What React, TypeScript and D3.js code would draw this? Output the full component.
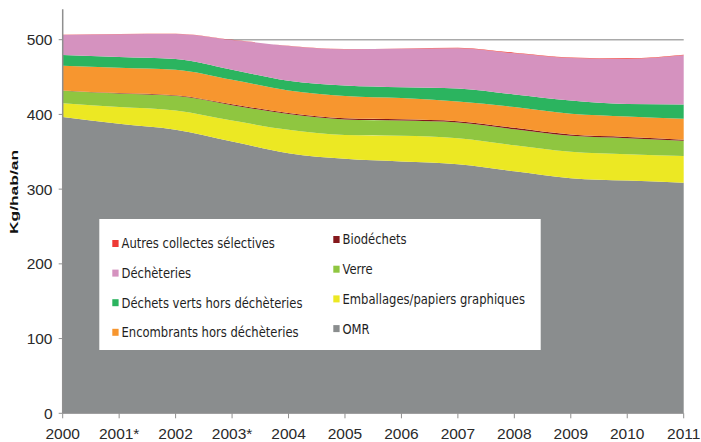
import * as d3 from "d3";
import { useEffect } from "react";

const W = 701;
const H = 442;

const YEARS = ["2000", "2001*", "2002", "2003*", "2004", "2005", "2006", "2007", "2008", "2009", "2010", "2011"];

// kg/hab/an, stacked bottom to top
const OMR = [396.4, 387.4, 379.4, 363.7, 348.1, 340.5, 336.9, 333.4, 323.9, 314.6, 311.4, 308.7];
const EMBALLAGES = [18.7, 22.4, 25.8, 28.1, 31.3, 32.0, 34.4, 34.8, 34.9, 35.3, 35.4, 35.8];
const VERRE = [16.5, 18.2, 19.7, 20.6, 21.0, 20.8, 20.5, 21.1, 21.4, 21.4, 21.4, 20.1];
const BIODECHETS = [0.5, 0.5, 0.6, 1.1, 1.6, 1.7, 1.7, 1.7, 1.8, 1.7, 1.6, 1.6];
const ENCOMBRANTS = [33.0, 34.0, 34.3, 32.9, 30.0, 29.7, 28.3, 26.3, 27.8, 27.8, 27.4, 27.9];
const VERTS = [14.4, 14.3, 14.3, 13.4, 13.0, 14.0, 14.6, 17.4, 16.9, 17.8, 16.8, 19.2];
const DECHETERIES = [26.9, 30.5, 33.6, 39.9, 46.7, 48.5, 51.5, 53.8, 55.1, 56.9, 60.2, 65.8];
const AUTRES = [0.3, 0.3, 0.3, 0.3, 0.3, 0.3, 0.4, 0.8, 0.8, 0.8, 0.8, 0.8];

const Y_TICKS = [0, 100, 200, 300, 400, 500];

type Series = { key: string; label: string; color: string; values: number[] };

const SERIES: Series[] = [
  { key: "omr", label: "OMR", color: "#8a8d8e", values: OMR },
  { key: "emb", label: "Emballages/papiers graphiques", color: "#ece823", values: EMBALLAGES },
  { key: "verre", label: "Verre", color: "#8fc640", values: VERRE },
  { key: "bio", label: "Biodéchets", color: "#85181c", values: BIODECHETS },
  { key: "enc", label: "Encombrants hors déchèteries", color: "#f7962f", values: ENCOMBRANTS },
  { key: "verts", label: "Déchets verts hors déchèteries", color: "#2bb45f", values: VERTS },
  { key: "dech", label: "Déchèteries", color: "#d592bf", values: DECHETERIES },
  { key: "autres", label: "Autres collectes sélectives", color: "#ee3a36", values: AUTRES },
];

const LEFT_LEGEND = ["autres", "dech", "verts", "enc"];
const RIGHT_LEGEND = ["bio", "verre", "emb", "omr"];

const MARGIN = { left: 62.7, right: 683.7, top: 9.8, bottom: 413.3 };
const FONT = "'Liberation Sans', Arial, sans-serif";
const LEGEND_FONT = "'DejaVu Sans Condensed', 'DejaVu Sans', sans-serif";

function LegendItem({ s, x, cy }: { s: Series; x: number; cy: number }) {
  return (
    <g>
      <rect x={x} y={cy - 3.3} width={6.3} height={7} fill={s.color} />
      <text
        transform={`translate(${x + 9.2},${cy}) scale(0.9,1)`}
        dy="0.36em"
        fontFamily={LEGEND_FONT}
        fontSize={14.3}
        fill="#1e1e1e"
      >
        {s.label}
      </text>
    </g>
  );
}

export default function App() {
  useEffect(() => {
    document.body.style.margin = "0";
  }, []);

  const x = d3.scalePoint<string>().domain(YEARS).range([MARGIN.left, MARGIN.right]);
  const y = d3.scaleLinear().domain([0, 540]).range([MARGIN.bottom, MARGIN.top]);

  const rows = YEARS.map((yr, i) => {
    const r: Record<string, number | string> = { year: yr };
    SERIES.forEach((s) => (r[s.key] = s.values[i]));
    return r;
  });
  const stacked = d3.stack<Record<string, number | string>>().keys(SERIES.map((s) => s.key))(rows as any);

  const area = d3
    .area<any>()
    .x((d) => x(d.data.year as string)!)
    .y0((d) => y(d[0]))
    .y1((d) => y(d[1]))
    .curve(d3.curveMonotoneX);

  const byKey = (k: string) => SERIES.find((s) => s.key === k)!;

  return (
    <svg width={W} height={H} style={{ display: "block", background: "#fff" }}>
      {/* grid line at 500 */}
      <line x1={MARGIN.left} x2={MARGIN.right} y1={y(500)} y2={y(500)} stroke="#a9a9a9" strokeWidth={1.5} />

      {stacked.map((layer, i) => (
        <path key={SERIES[i].key} d={area(layer) ?? ""} fill={SERIES[i].color} />
      ))}

      {/* y axis */}
      <line x1={MARGIN.left} x2={MARGIN.left} y1={MARGIN.top - 0.5} y2={MARGIN.bottom} stroke="#8f8f8f" strokeWidth={1.5} />
      {Y_TICKS.map((t) => (
        <g key={t}>
          <line x1={MARGIN.left - 4} x2={MARGIN.left} y1={y(t)} y2={y(t)} stroke="#8f8f8f" strokeWidth={1} />
          <text x={52.5} y={y(t)} dy="0.36em" textAnchor="end" fontFamily={FONT} fontSize={15.5} fill="#2a2a2a">
            {t}
          </text>
        </g>
      ))}

      {/* x axis */}
      <line x1={MARGIN.left} x2={MARGIN.right} y1={MARGIN.bottom} y2={MARGIN.bottom} stroke="#8f8f8f" strokeWidth={1} />
      {YEARS.map((yr) => (
        <g key={yr}>
          <line x1={x(yr)} x2={x(yr)} y1={MARGIN.bottom} y2={MARGIN.bottom + 5} stroke="#8f8f8f" strokeWidth={1} />
          <text x={x(yr)} y={439} textAnchor="middle" fontFamily={FONT} fontSize={15.5} fill="#2a2a2a">
            {yr}
          </text>
        </g>
      ))}

      {/* y axis title */}
      <text
        transform="translate(18,192) rotate(-90)"
        textAnchor="middle"
        fontFamily={FONT}
        fontWeight="bold"
        fontSize={11}
        fill="#111"
        textLength={84}
        lengthAdjust="spacingAndGlyphs"
      >
        Kg/hab/an
      </text>

      {/* legend */}
      <rect x={99.3} y={219} width={441.4} height={131} fill="#fff" />
      {LEFT_LEGEND.map((k, i) => (
        <LegendItem key={k} s={byKey(k)} x={112.3} cy={243.3 + i * 29.6} />
      ))}
      {RIGHT_LEGEND.map((k, i) => (
        <LegendItem key={k} s={byKey(k)} x={333.3} cy={239.3 + i * 29.7} />
      ))}
    </svg>
  );
}
